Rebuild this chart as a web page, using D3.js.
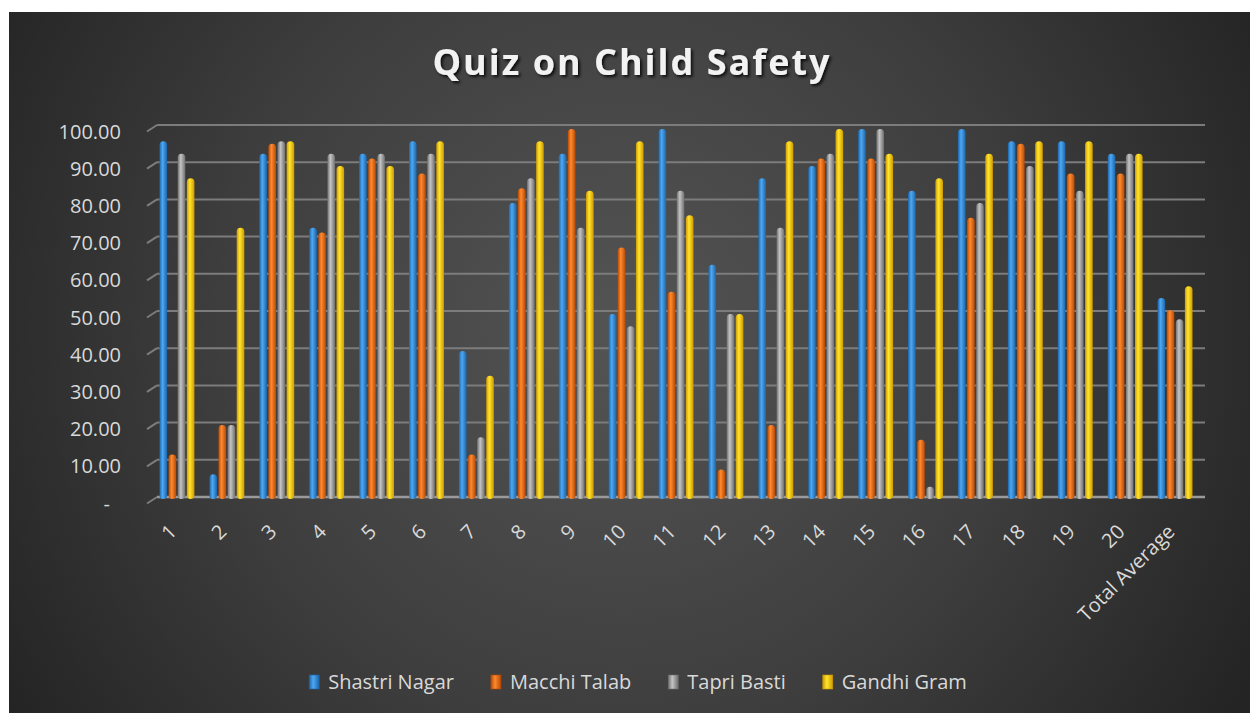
<!DOCTYPE html>
<html>
<head>
<meta charset="utf-8">
<script src="https://cdn.jsdelivr.net/npm/d3@7"></script>
<style>
  body { margin: 0; background: #fff; }
  text { font-family: "Open Sans", "Noto Sans", sans-serif; }
</style>
</head>
<body>
<svg id="chart" width="1250" height="713"></svg>
<script>
// chart data
const categories = ["1","2","3","4","5","6","7","8","9","10","11","12","13","14","15","16","17","18","19","20","Total Average"];
const seriesNames = ["Shastri Nagar", "Macchi Talab", "Tapri Basti", "Gandhi Gram"];
const shastriNagar = [96.67, 6.67, 93.33, 73.33, 93.33, 96.67, 40, 80, 93.33, 50, 100, 63.33, 86.67, 90, 100, 83.33, 100, 96.67, 96.67, 93.33, 54.3];
const macchiTalab  = [12, 20, 96, 72, 92, 88, 12, 84, 100, 68, 56, 8, 20, 92, 92, 16, 76, 96, 88, 88, 51];
const tapriBasti   = [93.33, 20, 96.67, 93.33, 93.33, 93.33, 16.67, 86.67, 73.33, 46.67, 83.33, 50, 73.33, 93.33, 100, 3.33, 80, 90, 83.33, 93.33, 48.6];
const gandhiGram   = [86.67, 73.33, 96.67, 90, 90, 96.67, 33.33, 96.67, 83.33, 96.67, 76.67, 50, 96.67, 100, 93.33, 86.67, 93.33, 96.67, 96.67, 93.33, 57.5];
const yTicks = [0, 10, 20, 30, 40, 50, 60, 70, 80, 90, 100];

const seriesValues = [shastriNagar, macchiTalab, tapriBasti, gandhiGram];
// dark edge, light middle of each "cylinder"
const colors = [
  { dark: "#1b66ab", light: "#4fa8f2" },
  { dark: "#b84a06", light: "#ff8a2e" },
  { dark: "#6f6f6f", light: "#c4c4c4" },
  { dark: "#d09a00", light: "#ffe52e" }
];

const svg = d3.select("#chart");
const defs = svg.append("defs");

// background
const bg = defs.append("radialGradient").attr("id", "bg")
  .attr("gradientUnits", "userSpaceOnUse")
  .attr("cx", 620).attr("cy", 330).attr("r", 720);
bg.append("stop").attr("offset", "0%").attr("stop-color", "#545454");
bg.append("stop").attr("offset", "55%").attr("stop-color", "#3e3e3e");
bg.append("stop").attr("offset", "100%").attr("stop-color", "#242424");
svg.append("rect").attr("x", 9).attr("y", 12).attr("width", 1241).attr("height", 701).attr("fill", "url(#bg)");

const shadow = defs.append("filter").attr("id", "shadow").attr("x", "-10%").attr("y", "-30%").attr("width", "120%").attr("height", "160%");
shadow.append("feDropShadow").attr("dx", 2).attr("dy", 2).attr("stdDeviation", 1.5).attr("flood-color", "#000").attr("flood-opacity", 0.8);

colors.forEach((c, i) => {
  const g = defs.append("linearGradient").attr("id", "bar" + i).attr("x1", "0").attr("x2", "1").attr("y1", "0").attr("y2", "0");
  g.append("stop").attr("offset", "0%").attr("stop-color", c.dark);
  g.append("stop").attr("offset", "40%").attr("stop-color", c.light);
  g.append("stop").attr("offset", "100%").attr("stop-color", c.dark);
});

// title
svg.append("text")
  .attr("x", 632).attr("y", 75)
  .attr("text-anchor", "middle")
  .attr("fill", "#f2f2f2")
  .attr("font-size", 36).attr("font-weight", 700)
  .attr("letter-spacing", 2)
  .attr("filter", "url(#shadow)")
  .text("Quiz on Child Safety");

// scales
const x = d3.scaleBand().domain(categories).range([152, 1200]);
const xInner = d3.scaleBand().domain(seriesNames).range([-18.2, 18.2]);
const yWall = d3.scaleLinear().domain([0, 100]).range([497, 125]);   // back wall gridlines
const yFront = d3.scaleLinear().domain([0, 100]).range([499, 129]);  // bars stand in front

// gridlines with the little 3D side edge at the left
const grid = svg.append("g");
yTicks.forEach(t => {
  const yy = yWall(t);
  grid.append("line")
    .attr("x1", 157).attr("x2", 1205).attr("y1", yy).attr("y2", yy)
    .attr("stroke", t === 0 ? "#9a9a9a" : "#7c7c7c").attr("stroke-width", t === 0 ? 2.5 : 2);
  grid.append("line")
    .attr("x1", 147).attr("x2", 157).attr("y1", yy + 6.5).attr("y2", yy)
    .attr("stroke", "#7c7c7c").attr("stroke-width", 2);
});

// y labels
svg.append("g").selectAll("text").data(yTicks).join("text")
  .attr("x", d => d === 0 ? 110 : 121)
  .attr("y", d => yWall(d) + 6.5)
  .attr("dy", "0.35em")
  .attr("text-anchor", "end")
  .attr("fill", "#d9d9d9")
  .attr("font-size", 20)
  .text(d => d === 0 ? "-" : d3.format(".2f")(d));

// bars
const groups = svg.append("g").selectAll("g").data(categories).join("g")
  .attr("transform", d => `translate(${x(d) + x.bandwidth() / 2},0)`);

groups.each(function(cat, ci) {
  const g = d3.select(this);
  seriesNames.forEach((s, si) => {
    const v = seriesValues[si][ci];
    const bx = xInner(s) + xInner.bandwidth() / 2;
    g.append("rect")
      .attr("x", bx - 3.8).attr("width", 7.6)
      .attr("y", yFront(v)).attr("height", yFront(0) - yFront(v))
      .attr("rx", 3.8).attr("ry", 3.8)
      .attr("fill", `url(#bar${si})`);
  });
});

// x labels
svg.append("g").selectAll("text").data(categories).join("text")
  .attr("transform", d => `translate(${x(d) + x.bandwidth() / 2 + 1},533) rotate(-45)`)
  .attr("text-anchor", "end")
  .attr("fill", "#d9d9d9")
  .attr("font-size", 20)
  .text(d => d);

// legend
const legend = svg.append("g").attr("transform", "translate(0,682)");
const items = legend.selectAll("g").data(seriesNames).join("g");
items.append("rect")
  .attr("x", 0).attr("y", -7).attr("width", 10).attr("height", 14)
  .attr("fill", (d, i) => `url(#bar${i})`)
  .attr("stroke", (d, i) => colors[i].dark).attr("stroke-width", 0.6);
items.append("text")
  .attr("x", 19).attr("dy", "0.35em")
  .attr("fill", "#d9d9d9")
  .attr("font-size", 20)
  .text(d => d);

let widths = [];
items.each(function() { widths.push(this.getBBox().width); });
const gap = 37;
const total = d3.sum(widths) + gap * (widths.length - 1);
let cx = 638 - total / 2;
items.attr("transform", (d, i) => {
  const pos = cx;
  cx += widths[i] + gap;
  return `translate(${pos},0)`;
});
</script>
</body>
</html>
